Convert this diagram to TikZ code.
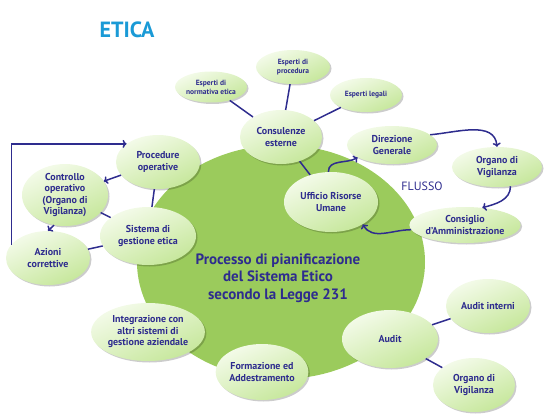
\documentclass[tikz,border=0pt]{standalone}
\usepackage{fontspec}
\setmainfont{PT Sans}
\usetikzlibrary{shapes.geometric,shadows,arrows.meta}

\definecolor{titolo}{HTML}{1A9AD6}
\definecolor{inchiostro}{HTML}{2E2C8E}
\definecolor{prato}{HTML}{9BCB5C}
\definecolor{chiaro}{HTML}{F4FBEA}
\definecolor{scuro}{HTML}{C6E79B}

\tikzset{
    bolla/.style 2 args={ellipse, inner sep=0pt, minimum width=#1, minimum height=#2,
        top color=chiaro, bottom color=scuro, shading angle=25,
        drop shadow={shadow xshift=1.5pt, shadow yshift=-1.5pt, opacity=0.2, fill=black},
        align=center, text=inchiostro, font=\bfseries\fontsize{10}{11.5}\selectfont},
    piccola/.style={font=\bfseries\fontsize{7.5}{9}\selectfont},
    filo/.style={draw=inchiostro, line width=1.5pt},
    freccia/.style={filo, -{To[length=4pt, width=8pt]}}
}

\begin{document}
\begin{tikzpicture}[x=1pt, y=-1pt]
    \useasboundingbox (0,0) rectangle (560,420);
    \node at (127,30) [text=titolo, font=\bfseries\fontsize{22}{26}\selectfont] {ETICA};
    \node at (422,186) [text=inchiostro, font=\fontsize{12}{14}\selectfont] {FLUSSO};

    % processo centrale
    \node (proc) at (281,262) [ellipse, fill=prato, minimum width=288pt, minimum height=234pt, inner sep=0pt] {};
    \node at (278,278) [align=center, text=inchiostro, font=\bfseries\fontsize{15}{17.5}\selectfont]
        {Processo di pianificazione\\del Sistema Etico\\secondo la Legge 231};

    % consulenze
    \node (norm) at (211,87) [bolla={72pt}{31pt}, piccola] {Esperti di\\normativa etica};
    \node (proced) at (293,67) [bolla={74pt}{34pt}, piccola] {Esperti di\\procedura};
    \node (legali) at (366,95) [bolla={72pt}{34pt}, piccola] {Esperti legali};
    \node (cons) at (281,137) [bolla={82pt}{54pt}] {Consulenze\\esterne};

    % flusso
    \node (uff) at (331,202) [bolla={94pt}{60pt}] {Ufficio Risorse\\Umane};
    \node (dir) at (392,145) [bolla={90pt}{38pt}] {Direzione\\Generale};
    \node (ovtop) at (497,167) [bolla={90pt}{40pt}] {Organo di\\Vigilanza};
    \node (cda) at (465,225) [bolla={92pt}{36pt}] {Consiglio\\d'Amministrazione};

    % sistema di gestione
    \node (oper) at (158,162) [bolla={84pt}{54pt}] {Procedure\\operative};
    \node (contr) at (65,195) [bolla={86pt}{62pt}] {Controllo\\operativo\\(Organo di\\Vigilanza)};
    \node (sist) at (148,236) [bolla={96pt}{58pt}] {Sistema di\\gestione etica};
    \node (azioni) at (48,258) [bolla={84pt}{54pt}] {Azioni\\correttive};

    \node (integr) at (148,332) [bolla={96pt}{58pt}] {Integrazione con\\altri sistemi di\\gestione aziendale};
    \node (form) at (262,372) [bolla={90pt}{56pt}] {Formazione ed\\Addestramento};

    % audit
    \node (audit) at (390,339) [bolla={96pt}{58pt}] {Audit};
    \node (aint) at (488,306) [bolla={84pt}{54pt}] {Audit interni};
    \node (ovbot) at (474,385) [bolla={82pt}{54pt}] {Organo di\\Vigilanza};

    \draw[filo] (norm) -- (cons);
    \draw[filo] (proced) -- (cons);
    \draw[filo] (legali) -- (cons);
    \draw[filo] (cons) -- (uff);

    \draw[freccia] (uff.95) to[out=90, in=210] (dir.200);
    \draw[freccia] (dir.15) to[out=5, in=95] (ovtop.north);
    \draw[freccia] (ovtop.-55) to[out=-90, in=15] (cda.45);
    \draw[freccia] (cda.185) to[out=180, in=-60] (uff.-35);

    \draw[freccia] (oper) -- (contr);
    \draw[filo] (oper) -- (sist);
    \draw[filo] (contr) -- (sist);
    \draw[freccia] (contr.250) -- (azioni.north);
    \draw[filo] (azioni) -- (sist);
    \draw[freccia] (azioni.160) |- (oper.150);

    \draw[filo] (audit) -- (aint);
    \draw[filo] (audit) -- (ovbot);
\end{tikzpicture}
\end{document}
